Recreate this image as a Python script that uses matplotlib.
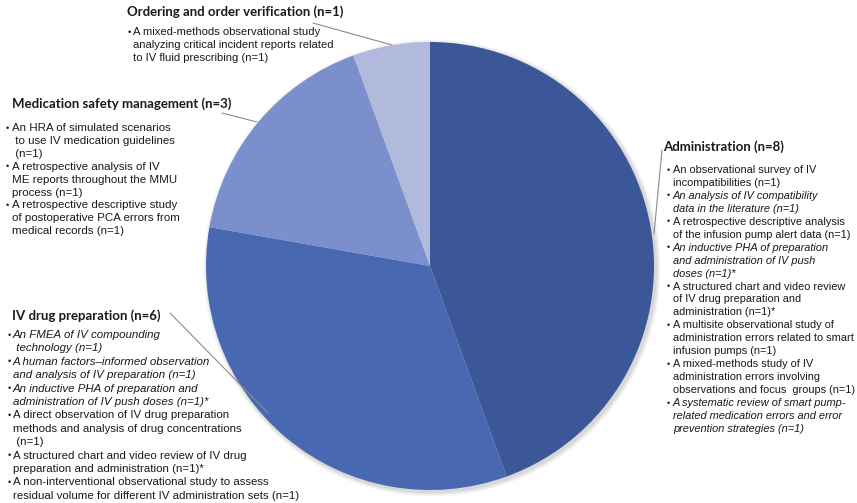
import matplotlib
matplotlib.use("Agg")
import matplotlib.pyplot as plt
from matplotlib.patches import Circle

W, H = 857, 503

categories = ["Administration", "IV drug preparation", "Medication safety management",
              "Ordering and order verification"]
counts = [8, 6, 3, 1]
colors = ["#3B5797", "#4868B2", "#7A8FCB", "#B1B9DC"]

titles = [f"{c} (n={n})" for c, n in zip(categories, counts)]

# (text lines, italic) per bullet item
admin_items = [
    (["An observational survey of IV", "incompatibilities (n=1)"], False),
    (["An analysis of IV compatibility", "data in the literature (n=1)"], True),
    (["A retrospective descriptive analysis", "of the infusion pump alert data (n=1)"], False),
    (["An inductive PHA of preparation", "and administration of IV push", "doses (n=1)*"], True),
    (["A structured chart and video review", "of IV drug preparation and", "administration (n=1)*"], False),
    (["A multisite observational study of", "administration errors related to smart", "infusion pumps (n=1)"], False),
    (["A mixed-methods study of IV", "administration errors involving", "observations and focus  groups (n=1)"], False),
    (["A systematic review of smart pump-", "related medication errors and error", "prevention strategies (n=1)"], True),
]
prep_items = [
    (["An FMEA of IV compounding", " technology (n=1)"], True),
    (["A human factors\u2013informed observation", "and analysis of IV preparation (n=1)"], True),
    (["An inductive PHA of preparation and", "administration of IV push doses (n=1)*"], True),
    (["A direct observation of IV drug preparation", "methods and analysis of drug concentrations", " (n=1)"], False),
    (["A structured chart and video review of IV drug", "preparation and administration (n=1)*"], False),
    (["A non-interventional observational study to assess", "residual volume for different IV administration sets (n=1)"], False),
]
mms_items = [
    (["An HRA of simulated scenarios", " to use IV medication guidelines", " (n=1)"], False),
    (["A retrospective analysis of IV", "ME reports throughout the MMU", "process (n=1)"], False),
    (["A retrospective descriptive study", "of postoperative PCA errors from", "medical records (n=1)"], False),
]
order_items = [
    (["A mixed-methods observational study", "analyzing critical incident reports related",
      "to IV fluid prescribing (n=1)"], False),
]

fig = plt.figure(figsize=(W / 100, H / 100), dpi=100)
ax = fig.add_axes([0, 0, 1, 1])

cx, cy, R = 430, 266, 224

def Y(y):
    return H - y

# soft shadow
for k, a in zip(range(6, 0, -1), [0.03, 0.04, 0.05, 0.06, 0.07, 0.08]):
    ax.add_patch(Circle((cx + 2, Y(cy) - 2), R + k * 0.8, color="#7f7f7f", alpha=a, lw=0, zorder=0))

ax.pie(counts, colors=colors, startangle=90, counterclock=False, center=(cx, Y(cy)),
       radius=R, wedgeprops=dict(linewidth=0), frame=False)
ax.set_xlim(0, W)
ax.set_ylim(0, H)
ax.set_aspect("equal")
ax.axis("off")

TXT = "#1a1a1a"
TITLE_FONT = ["Lato", "DejaVu Sans"]
BODY_FONT = ["Liberation Sans", "DejaVu Sans"]
TS = 9.5

def block(title, items, tx, ty, bx, textx, y0, dy, bs):
    ax.text(tx, Y(ty), title, fontsize=TS, fontweight="bold", family=TITLE_FONT,
            color=TXT, va="center", ha="left")
    y = y0
    for lines, ital in items:
        ax.text(bx, Y(y), "\u2022", fontsize=bs * 0.8, family=BODY_FONT, color=TXT,
                va="center", ha="left")
        for ln in lines:
            ax.text(textx, Y(y), ln, fontsize=bs, family=BODY_FONT, color=TXT,
                    va="center", ha="left", style="italic" if ital else "normal")
            y += dy

block(titles[3], order_items, 127, 12, 128, 133, 32, 13.0, 8.1)
block(titles[2], mms_items, 12, 104, 6, 12, 128, 12.9, 8.25)
block(titles[1], prep_items, 12, 316, 8, 13, 335, 13.4, 8.25)
block(titles[0], admin_items, 663, 147, 667, 673, 170, 12.95, 7.95)

# leader lines
LC = "#8c8c8c"
def leader(x0, y0, x1, y1):
    ax.plot([x0, x1], [Y(y0), Y(y1)], color=LC, lw=0.8, solid_capstyle="round")

leader(313, 23, 392, 45)
leader(222, 113, 257, 122)
leader(170, 313, 268, 413)
leader(662, 150, 654, 234)

fig.savefig("out.png", dpi=100)
